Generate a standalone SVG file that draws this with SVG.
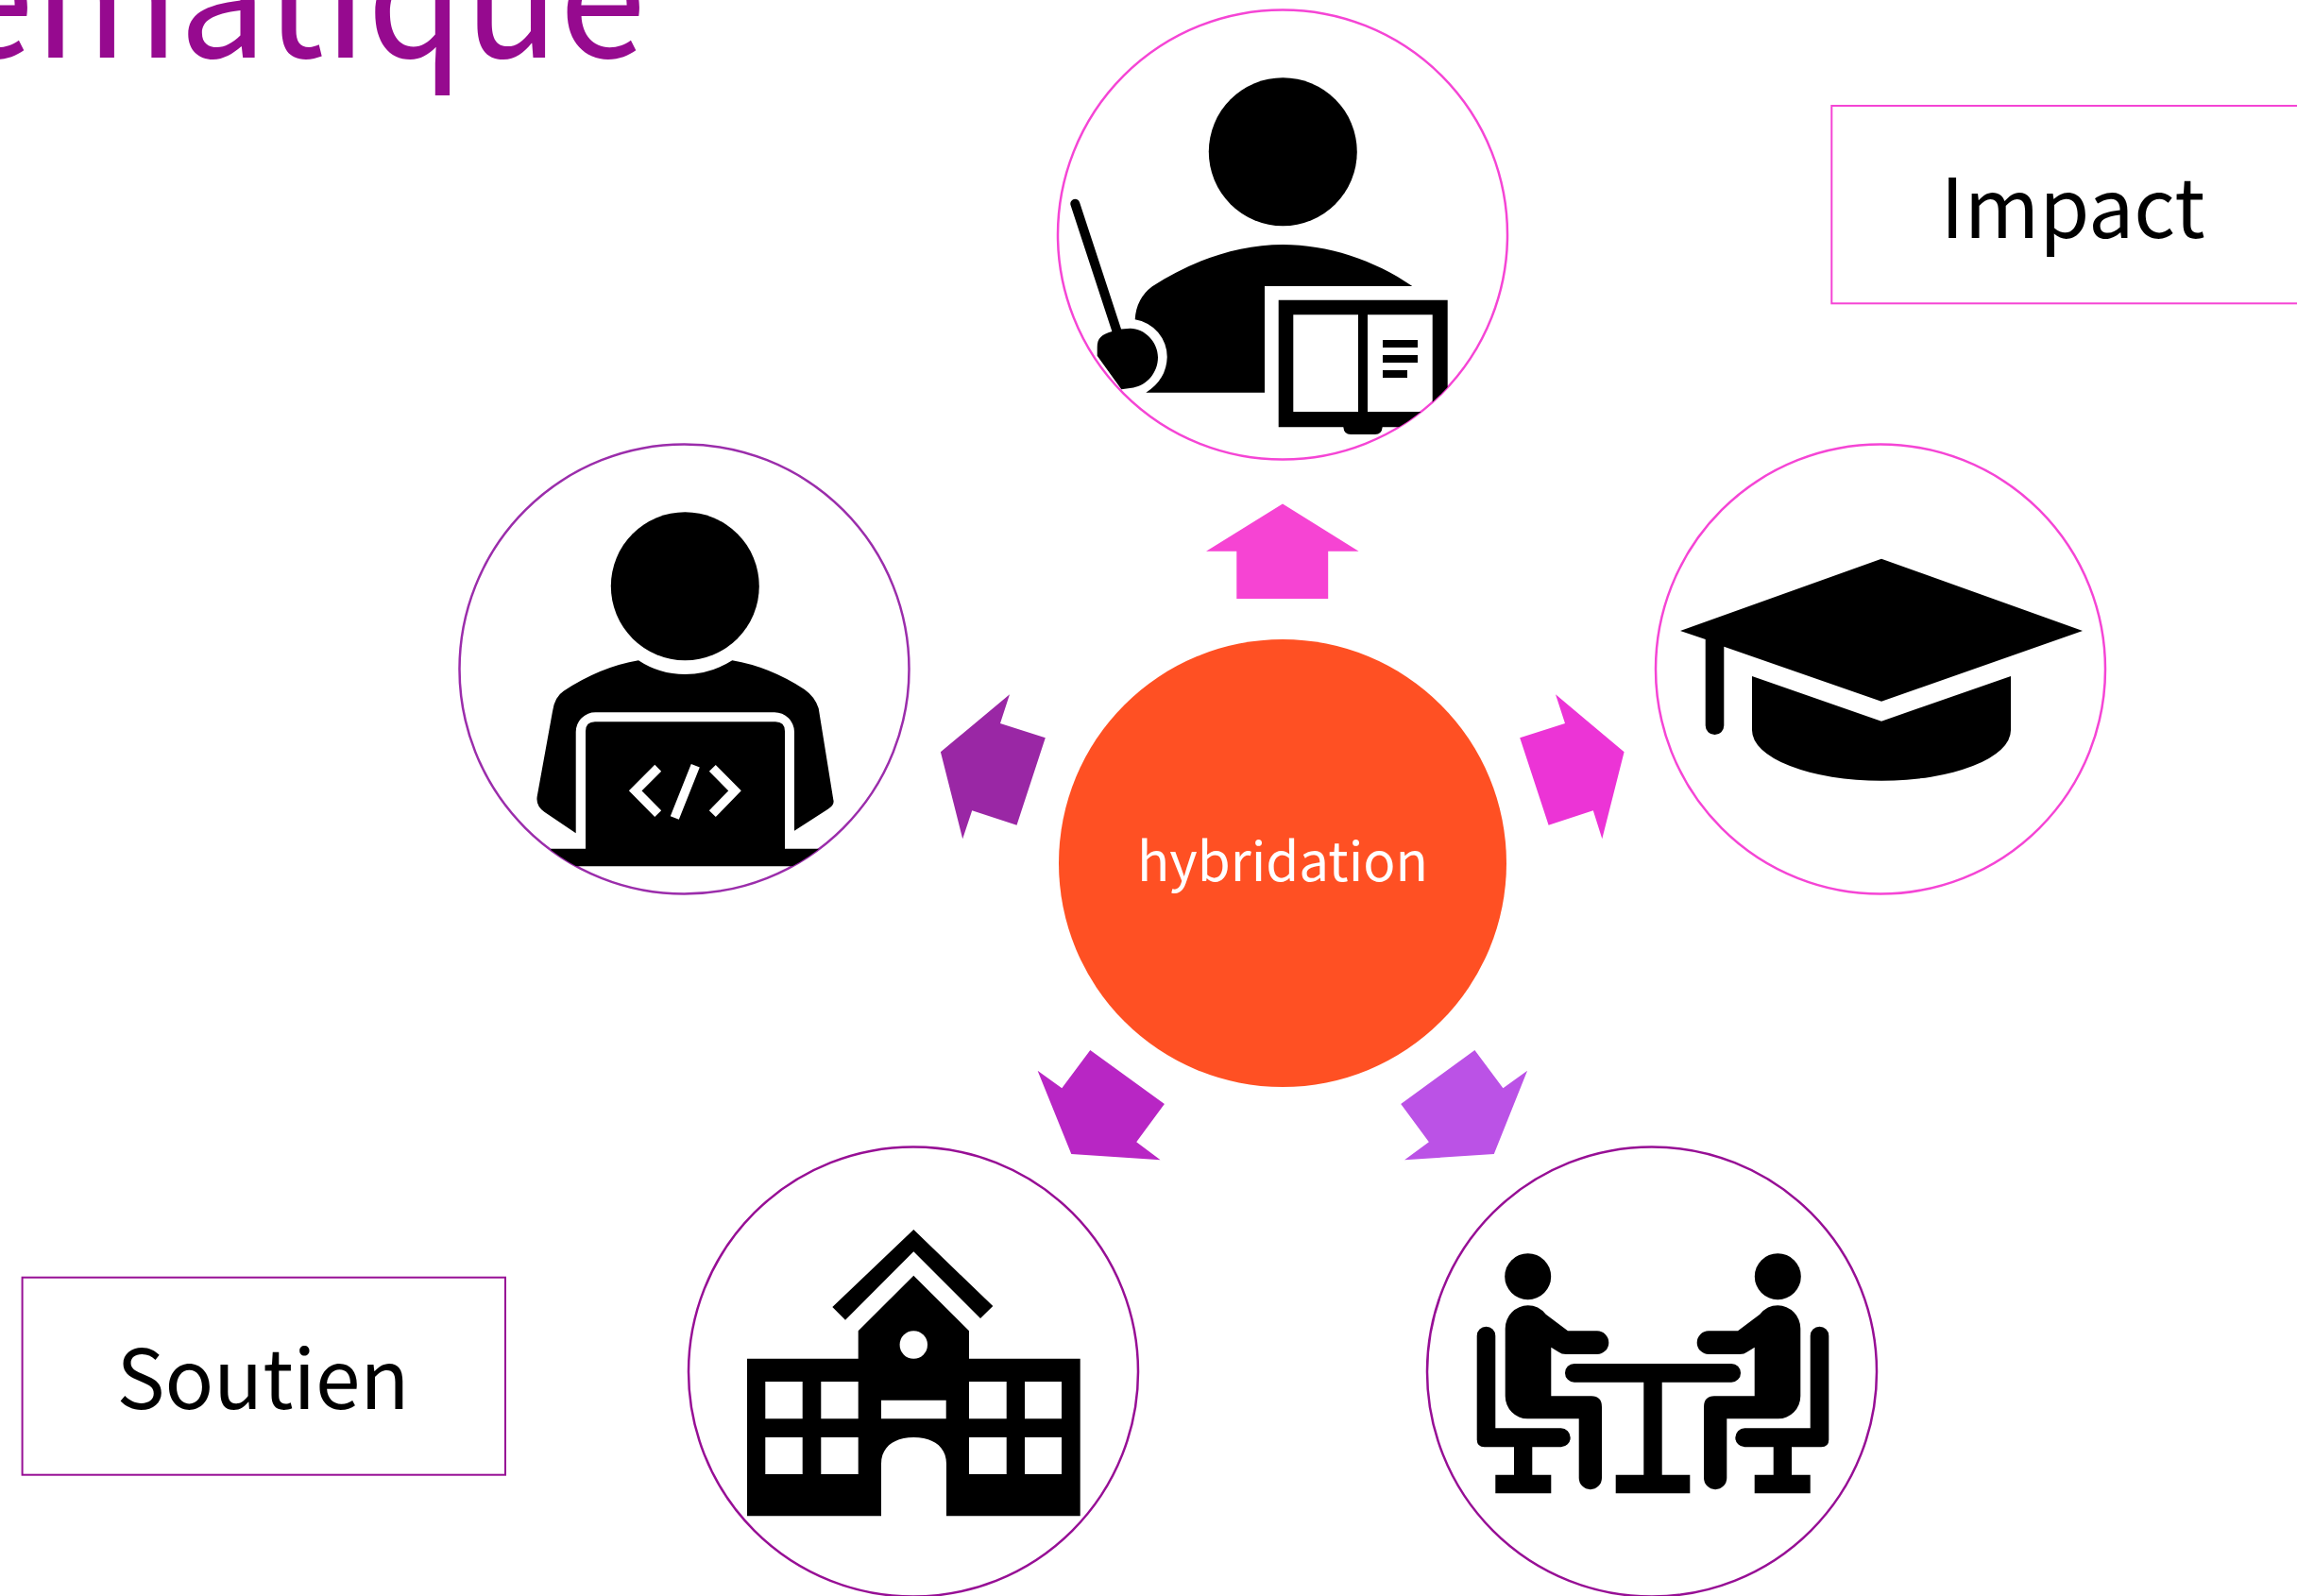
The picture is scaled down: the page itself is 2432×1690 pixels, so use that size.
<svg xmlns="http://www.w3.org/2000/svg" xmlns:xlink="http://www.w3.org/1999/xlink" width="2432" height="1690" viewBox="0 0 2432 1690">
<style>
.lbl{font-family:"Noto Sans CJK SC","Noto Sans","Liberation Sans",sans-serif;font-weight:400;fill:#000}
.title{font-family:"Noto Sans CJK SC","Noto Sans","Liberation Sans",sans-serif;font-weight:400;fill:#960a8f}
.ring{fill:#fff;stroke-width:2.5}
.pink{stroke:#f545d5}.violet{stroke:#9b2dab}.plum{stroke:#970f95}
.box{fill:#fff;stroke-width:2}
.hole{fill:#fff}
</style>
<defs>
<clipPath id="cT"><circle cx="1358" cy="248.5" r="238"/></clipPath>
<clipPath id="cL"><circle cx="724.5" cy="708.5" r="238"/></clipPath>
<g id="seated">
<path d="M1593.7 1406.7A24.4 24.4 0 0 1 1617.7 1382.3Q1629 1382.3 1636.7 1391.7L1660 1409.3H1691A12.35 12.35 0 0 1 1691 1434H1658Q1653.3 1434 1650 1431.5L1642.3 1426.7V1478.3H1685Q1696 1478.3 1696 1490V1565A12.15 12.15 0 0 1 1671.7 1565V1502.3H1617.3A23.7 24 0 0 1 1593.7 1478.3Z"/>
<path d="M1563.7 1414.5A9.8 9.8 0 0 1 1583.3 1414.5V1512.3H1652.7A10 10 0 0 1 1652.7 1532.3H1622.3V1561.7H1642.3V1581.3H1583.3V1561.7H1603V1532.3H1571.7Q1563.7 1532.3 1563.7 1524.3Z"/>
<circle cx="1617.7" cy="1351.7" r="24.5"/>
</g>
</defs>
<rect width="2432" height="1690" fill="#fff"/>
<text class="title" x="-56" y="61" font-size="176" textLength="740" lengthAdjust="spacingAndGlyphs">ématique</text>
<g id="connectors">
<polygon fill="#f644d3" points="1358,533.5 1438.6,583.7 1406.2,583.7 1406.2,634 1309.3,634 1309.3,583.7 1277,583.7"/>
<polygon fill="#9a27a5" points="1069,735.3 1059,766 1106.8,781.3 1076.5,873.7 1029.2,858.3 1019.2,888.3 995.9,796.3"/>
<polygon fill="#ec34d6" points="1647,735.3 1719.6,796.3 1696.3,888.3 1686.8,858.3 1639.6,873.7 1609.2,781.3 1657,766"/>
<polygon fill="#b826c4" points="1154.3,1112 1232.9,1169 1203.2,1209.3 1228.6,1228.3 1134.3,1222 1098.6,1133.7 1124.3,1152.3"/>
<polygon fill="#bb52e6" points="1561.4,1112 1483.2,1169 1512.9,1209.3 1487.1,1228.3 1581.8,1222 1617.1,1133.7 1591.4,1152.3"/>
</g>
<g id="center">
<circle cx="1358" cy="914" r="237" fill="#ff5023"/>
<text x="1358" y="932.7" font-size="57" text-anchor="middle" class="lbl" style="fill:#fff" textLength="308" lengthAdjust="spacingAndGlyphs">hybridation</text>
</g>
<g id="teacher">
<circle class="ring pink" cx="1358" cy="248.5" r="238"/>
<g clip-path="url(#cT)">
<circle cx="1358.3" cy="160.7" r="78.5"/>
<path d="M1339 415.7V303H1495.3C1455 275 1405 259 1358.3 259C1310 259 1262 276 1220 303.3Q1203 316 1201.7 338.3A40 40 0 0 1 1235.7 378.3Q1235 402 1213.3 415.7Z"/>
<path d="M1138.3 215.7L1182.3 350" stroke="#000" stroke-width="10" stroke-linecap="round" fill="none"/>
<path d="M1178.3 350.7Q1187 347.7 1196.7 347.7C1212 347.7 1226 362 1226 378.3C1226 395 1214 408 1200 410.5L1187.3 412.3L1161.7 376.7V368C1161.7 358 1166 354 1178.3 350.7Z"/>
<path fill-rule="evenodd" d="M1353.7 317.7H1532.7V452.3H1463.7Q1463 460 1456 460H1430Q1423 460 1422.3 452.3H1353.7ZM1369.3 333.3V436H1438V333.3ZM1448 333.3V436H1516.7V333.3Z"/>
<path d="M1464 360H1501V368H1464ZM1464 376H1501V384H1464ZM1464 392H1490V400H1464Z"/>
</g>
</g>
<g id="coder">
<circle class="ring violet" cx="724.5" cy="708.5" r="238"/>
<g clip-path="url(#cL)">
<circle cx="725.3" cy="620.7" r="78.5"/>
<path d="M775.3 699.3Q752 714 725.3 714Q698 714 676 699.3Q636 706 596.7 731.7Q587 738 585 753.3L568.7 843.3Q567 853 576.7 860L609.7 882.3V775A20.7 20.7 0 0 1 630.7 754.3H820A21 21 0 0 1 841 775V879.7L876.7 856.7Q884 852 882.3 846.7L866.7 750Q863 738 851.7 730Q815 706 775.3 699.3Z"/>
<path d="M630 764.3H821Q831 764.3 831 774.3V898.7H866.7V917.3H583.3V898.7H620V774.3Q620 764.3 630 764.3Z"/>
<path d="M696.7 813.3L672.7 837.3L696.7 861.7M754.3 813.3L778 837.3L754.3 861.7M736.3 810.7L714.3 866" fill="none" stroke="#fff" stroke-width="9.7"/>
</g>
</g>
<g id="graduate">
<circle class="ring pink" cx="1991" cy="708.5" r="238"/>
<path d="M1992 591.7L2205 668L1992 742.7L1825.3 684.7V768.3A9.8 9.8 0 0 1 1805.7 768.3V677L1779 668Z"/>
<path d="M1855 716L1992 763.7L2129 716V773.3A137 53.4 0 0 1 1855 773.3Z"/>
</g>
<g id="school">
<circle class="ring plum" cx="967" cy="1452.5" r="238"/>
<polygon points="967.3,1302 1051.3,1383 1038,1396 967.3,1325.3 895,1397.7 881.3,1384"/>
<path d="M967.3 1350.7L1026 1409.3V1438.7H1143.7V1605.3H1002V1550C1002 1532 988 1522 967.3 1522C947 1522 933 1532 933 1550V1605.3H791V1438.7H908.7V1409.3Z"/>
<circle class="hole" cx="967.3" cy="1424" r="14.7"/>
<path class="hole" d="M810.3 1463H849.7V1502.3H810.3ZM869.3 1463H908.7V1502.3H869.3ZM1026 1463H1065.7V1502.3H1026ZM1085 1463H1124V1502.3H1085ZM810.3 1522H849.7V1561H810.3ZM869.3 1522H908.7V1561H869.3ZM1026 1522H1065.7V1561H1026ZM1085 1522H1124V1561H1085ZM933 1482.7H1001.7V1502.3H933Z"/>
</g>
<g id="meeting">
<circle class="ring plum" cx="1749" cy="1452.5" r="238"/>
<use href="#seated" xlink:href="#seated"/>
<use href="#seated" xlink:href="#seated" transform="matrix(-1 0 0 1 3500 0)"/>
<rect x="1657" y="1444" width="186" height="19.7" rx="9.8"/>
<path d="M1740.3 1460H1759.7V1561.7H1789.3V1581.3H1710.7V1561.7H1740.3Z"/>
</g>
<g id="impact">
<rect class="box pink" x="1939.3" y="112" width="520" height="209.3"/>
<text class="lbl" x="2054.5" y="252" font-size="87" textLength="280" lengthAdjust="spacingAndGlyphs">Impact</text>
</g>
<g id="soutien">
<rect class="box plum" x="23.6" y="1352.7" width="511.4" height="209"/>
<text class="lbl" x="278.5" y="1492" font-size="87" text-anchor="middle" textLength="310" lengthAdjust="spacingAndGlyphs">Soutien</text>
</g>
</svg>
